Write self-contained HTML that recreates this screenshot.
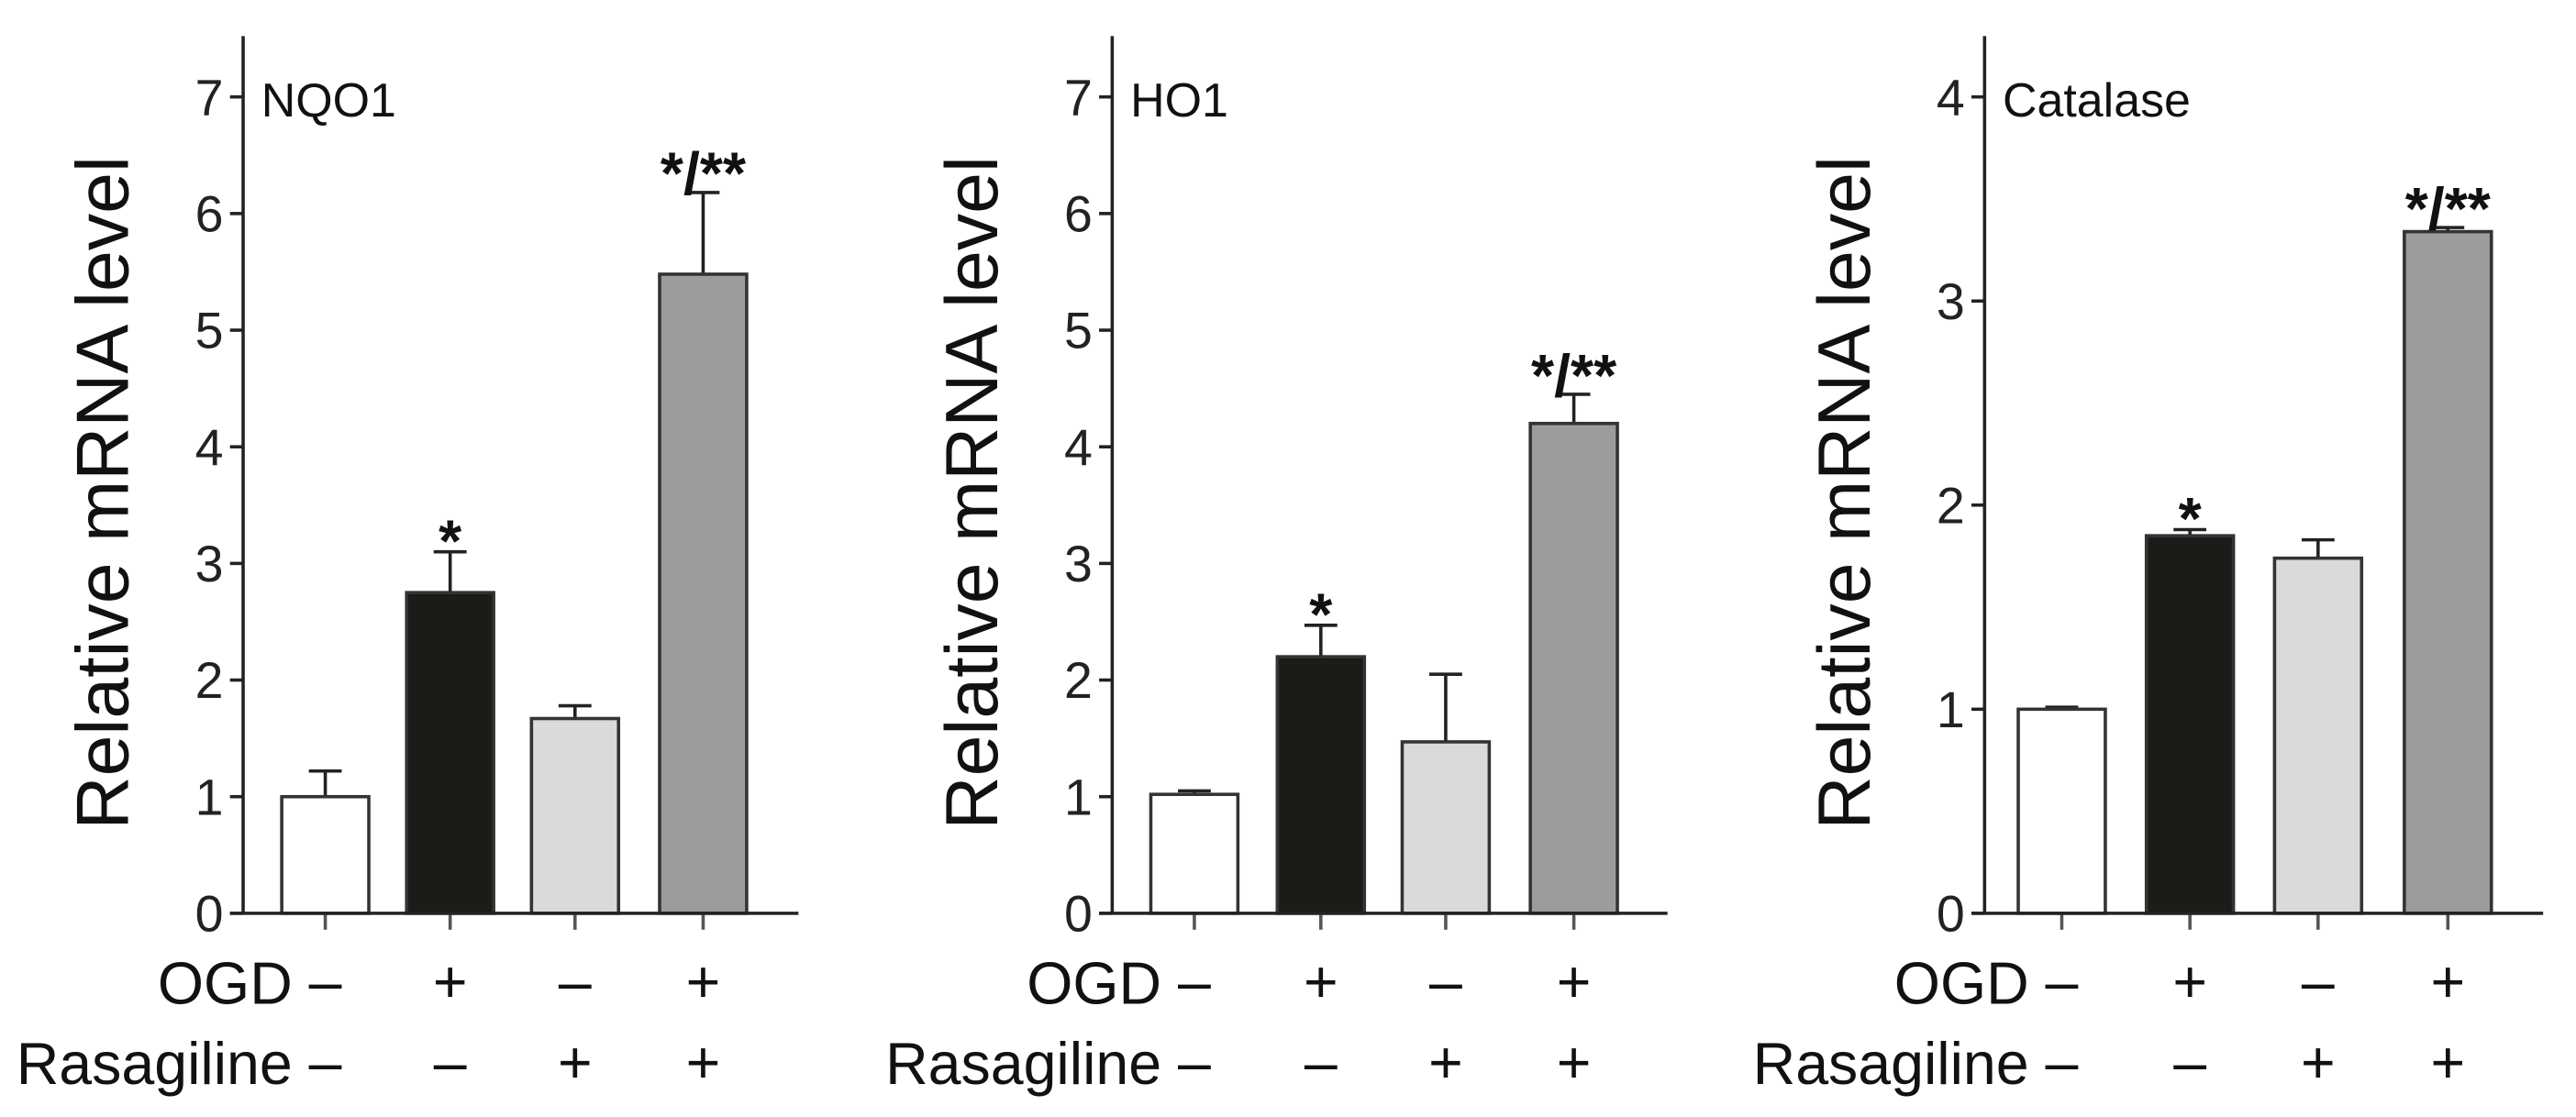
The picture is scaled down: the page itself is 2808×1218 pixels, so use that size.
<!DOCTYPE html>
<html><head><meta charset="utf-8"><style>
html,body{margin:0;padding:0;background:#fff;}
svg{display:block;font-family:"Liberation Sans",Arial,sans-serif;}
</style></head><body>
<svg id="fig" width="2808" height="1218" viewBox="0 0 1568 680" preserveAspectRatio="none" xmlns="http://www.w3.org/2000/svg"></svg>
<script>
const genes = ["NQO1", "HO1", "Catalase"];
const nqo1Values = [1.0, 2.75, 1.67, 5.48];
const nqo1Errors = [0.22, 0.35, 0.11, 0.70];
const ho1Values = [1.02, 2.2, 1.47, 4.2];
const ho1Errors = [0.03, 0.27, 0.58, 0.25];
const catalaseValues = [1.0, 1.85, 1.74, 3.34];
const catalaseErrors = [0.01, 0.03, 0.09, 0.02];
const nqo1Stars = ["", "*", "", "*/**"];
const ho1Stars = ["", "*", "", "*/**"];
const catalaseStars = ["", "*", "", "*/**"];
const ticks7 = [0,1,2,3,4,5,6,7];
const ticks4 = [0,1,2,3,4];
const ogdSigns = ["\u2013","+","\u2013","+"];
const rasSigns = ["\u2013","\u2013","+","+"];

const svg = document.getElementById('fig');
const NS = "http://www.w3.org/2000/svg";
function mk(tag, attrs, parent){const e=document.createElementNS(NS,tag);for(const k in attrs)e.setAttribute(k,attrs[k]);(parent||svg).appendChild(e);return e;}

const fills = ["#ffffff","#1b1b18","#dadada","#9c9c9c"];
const panels = [
 {axisX:148, xEnd:486, ymax:7, ticks:ticks7, vals:nqo1Values, errs:nqo1Errors, stars:nqo1Stars, centers:[198,274,350,428], name:"nqo1"},
 {axisX:677, xEnd:1015, ymax:7, ticks:ticks7, vals:ho1Values, errs:ho1Errors, stars:ho1Stars, centers:[727,804,880,958], name:"ho1"},
 {axisX:1208, xEnd:1548, ymax:4, ticks:ticks4, vals:catalaseValues, errs:catalaseErrors, stars:catalaseStars, centers:[1255,1333,1411,1490], name:"catalase"}
];
const y0=556, yTop=59, barW=53;

panels.forEach((p,pi)=>{
  const g=mk('g',{});
  
  
  const y = v => y0 - v*(y0-yTop)/p.ymax;
  p.vals.forEach((v,i)=>{
    const cx=p.centers[i];
    const top=y(v+p.errs[i]);
    const el=mk('line',{x1:cx,x2:cx,y1:y(v),y2:top,stroke:'#222','stroke-width':2},g);
    
    
    const cap=mk('line',{x1:cx-10,x2:cx+10,y1:top,y2:top,stroke:'#222','stroke-width':2},g);
    
    
    const r=mk('rect',{x:cx-barW/2,y:y(v),width:barW,height:y0-y(v),fill:fills[i],stroke:'#333','stroke-width':2},g);
    
    
    if(p.stars[i]){
      const t=mk('text',{x:cx,y:top+ (p.stars[i]==="*"?6:1),'text-anchor':'middle','font-size':36,'font-weight':'bold',fill:'#111'},g);
      t.textContent=p.stars[i];
      
      
    }
    const xt=mk('line',{x1:cx,x2:cx,y1:y0,y2:y0+10,stroke:'#555','stroke-width':2},g);
    
    
    const s1=mk('text',{x:cx,y:610,'text-anchor':'middle','font-size':36,fill:'#111'},g);
    s1.textContent=ogdSigns[i];
    
    
    const s2=mk('text',{x:cx,y:659,'text-anchor':'middle','font-size':36,fill:'#111'},g);
    s2.textContent=rasSigns[i];
    
    
  });
  const ya=mk('line',{x1:p.axisX,x2:p.axisX,y1:22,y2:y0,stroke:'#222','stroke-width':2},g);
  
  
  const xa=mk('line',{x1:p.axisX-8,x2:p.xEnd,y1:y0,y2:y0,stroke:'#222','stroke-width':2},g);
  
  
  p.ticks.forEach(t=>{
    const tl=mk('line',{x1:p.axisX-8,x2:p.axisX,y1:y(t),y2:y(t),stroke:'#222','stroke-width':2},g);
    
    
    const tx=mk('text',{x:p.axisX-12,y:y(t)+11,'text-anchor':'end','font-size':31,fill:'#222'},g);
    tx.textContent=t;
    
    
  });
  const ti=mk('text',{x:p.axisX+11,y:71,'font-size':29,fill:'#111'},g);
  ti.textContent=genes[pi];
  
  
  const yl=mk('text',{x:0,y:0,'text-anchor':'middle','font-size':45,fill:'#111',transform:'translate('+(p.axisX-70)+',300) rotate(-90)'},g);
  yl.textContent='Relative mRNA level';
  
  
  const o=mk('text',{x:p.centers[0]-20,y:611,'text-anchor':'end','font-size':36,fill:'#111'},g);
  o.textContent='OGD';
  
  
  const ra=mk('text',{x:p.centers[0]-20,y:660,'text-anchor':'end','font-size':36,fill:'#111'},g);
  ra.textContent='Rasagiline';
  
  
});
</script>
</body></html>
